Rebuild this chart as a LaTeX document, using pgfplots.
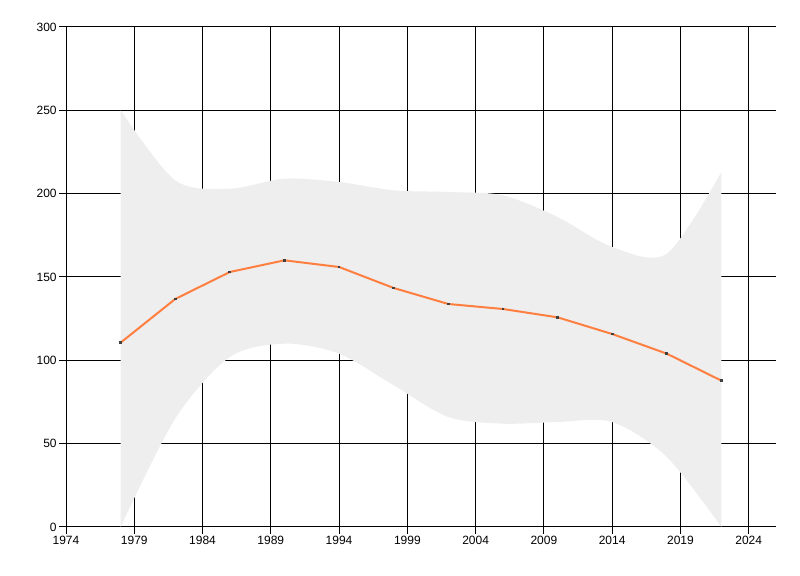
\documentclass[border=0pt]{standalone}
\usepackage{fontspec}
\setmainfont{Liberation Sans}
\usepackage{pgfplots}
\pgfplotsset{compat=1.18}
\usepgfplotslibrary{fillbetween}
\definecolor{bandgray}{HTML}{EEEEEE}
\definecolor{lineorange}{HTML}{FF7F40}
\definecolor{markgray}{HTML}{404040}

\begin{document}
\begin{tikzpicture}
\begin{axis}[
    scale only axis,
    width=355pt, height=250pt,
    xmin=1974, xmax=2026,
    ymin=0, ymax=300,
    xtick={1974,1979,...,2024},
    ytick={0,50,...,300},
    grid=major,
    grid style={black, line width=0.5pt},
    axis x line*=bottom,
    axis y line*=left,
    axis line style={black, line width=0.5pt},
    tick align=outside,
    major tick length=3.5pt,
    tick style={black, line width=0.5pt},
    ticklabel style={font=\fontsize{6}{7}\selectfont},
    /pgf/number format/1000 sep={},
    /pgf/number format/assume math mode=true,
    yticklabel style={inner xsep=1pt},
    xticklabel style={inner ysep=1pt},
]
    % confidence band
    \addplot[name path=upper, draw=none, smooth] coordinates {
        (1978,250)(1982,208)(1986,203)(1990,209)(1994,207)(1998,202)
        (2002,201)(2006,199)(2010,186)(2014,168)(2018,164)(2022,213)
    };
    \addplot[name path=lower, draw=none, smooth] coordinates {
        (1978,0)(1982,65)(1986,102)(1990,110)(1994,104)(1998,85)
        (2002,66)(2006,62)(2010,63)(2014,63)(2018,42)(2022,0)
    };
    \addplot[bandgray, draw=none] fill between[of=upper and lower];

    % mean line
    \addplot[
        color=lineorange,
        line width=1pt,
        mark=square*,
        mark size=0.45pt,
        mark options={fill=markgray, draw=markgray, line width=0pt},
    ]
    coordinates {
        (1978,110.6)(1982,136.8)(1986,153)(1990,160)(1994,156)(1998,143.4)
        (2002,133.8)(2006,130.8)(2010,125.8)(2014,115.8)(2018,104)(2022,87.8)
    };
\end{axis}
\pgfresetboundingbox
\path[use as bounding box]
    ([xshift=-33pt,yshift=-24.5pt]current axis.south west)
    rectangle ([xshift=12pt,yshift=13.5pt]current axis.north east);
\end{tikzpicture}
\end{document}
